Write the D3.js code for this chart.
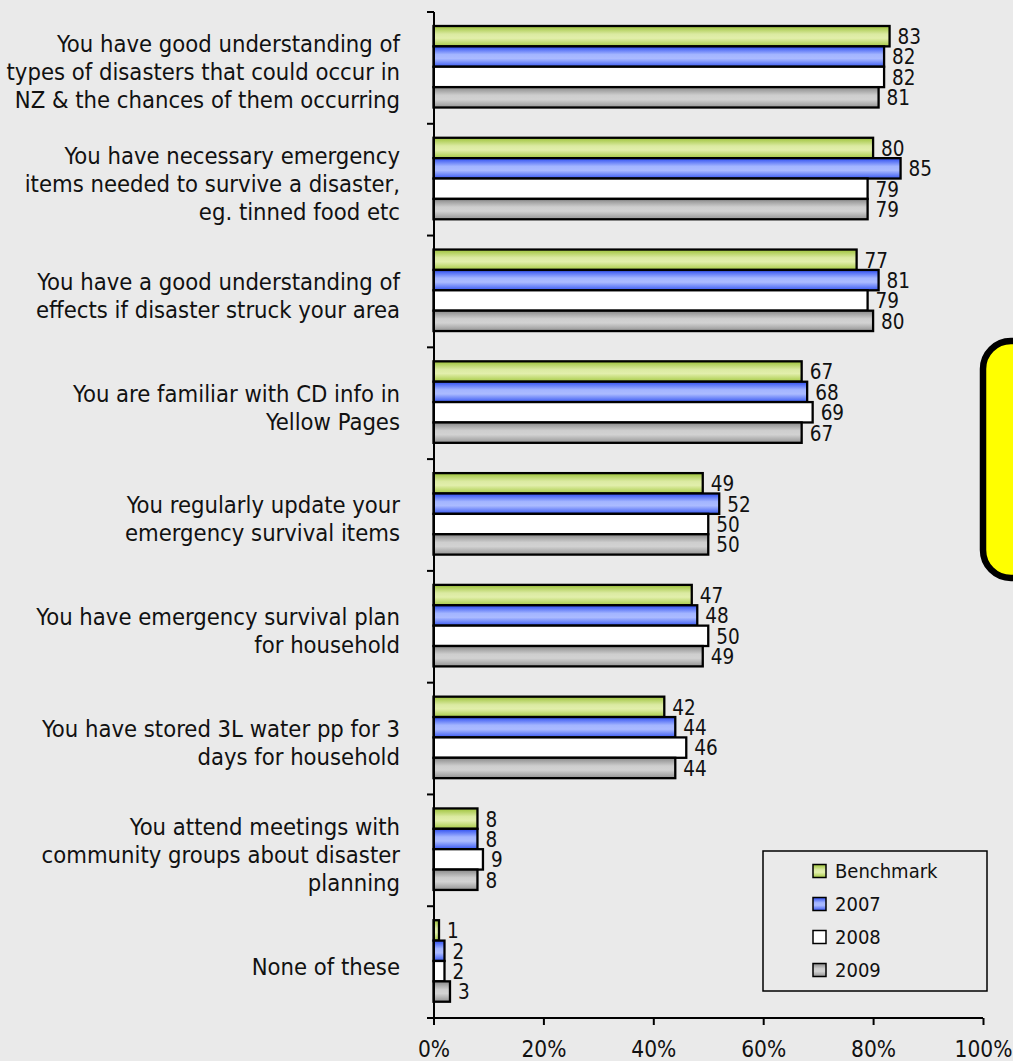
<!DOCTYPE html>
<html>
<head>
<meta charset="utf-8">
<script src="https://cdn.jsdelivr.net/npm/d3@7"></script>
<style>
  html, body { margin: 0; padding: 0; background: #EAEAEA; }
  svg { display: block; }
  text { font-family: "DejaVu Sans Condensed", "DejaVu Sans", sans-serif; fill: #111; }
</style>
</head>
<body>
<svg id="chart" width="1013" height="1061"></svg>
<script>
// Survey statements (label lines) and responses per year, in percent
const categories = [
  ["You have good understanding of", "types of disasters that could occur in", "NZ & the chances of them occurring"],
  ["You have necessary emergency", "items needed to survive a disaster,", "eg. tinned food etc"],
  ["You have a good understanding of", "effects if disaster struck your area"],
  ["You are familiar with CD info in", "Yellow Pages"],
  ["You regularly update your", "emergency survival items"],
  ["You have emergency survival plan", "for household"],
  ["You have stored 3L water pp for 3", "days for household"],
  ["You attend meetings with", "community groups about disaster", "planning"],
  ["None of these"]
];
const seriesNames = ["Benchmark", "2007", "2008", "2009"];
const benchmark = [83, 80, 77, 67, 49, 47, 42, 8, 1];
const y2007     = [82, 85, 81, 68, 52, 48, 44, 8, 2];
const y2008     = [82, 79, 79, 69, 50, 50, 46, 9, 2];
const y2009     = [81, 79, 80, 67, 50, 49, 44, 8, 3];
const xTicks = [0, 20, 40, 60, 80, 100];

const seriesValues = [benchmark, y2007, y2008, y2009];

const svg = d3.select("#chart");
const defs = svg.append("defs");

// vertical shading for the bar faces
const gradients = [
  { id: "gBench", stops: ["#9cc238", "#dbeaa2", "#e2efac", "#a6ca44"] },
  { id: "g2007",  stops: ["#2c4cf0", "#a3b5ff", "#abbbff", "#3858f2"] },
  { id: "g2008",  stops: ["#ffffff", "#ffffff", "#ffffff", "#ffffff"] },
  { id: "g2009",  stops: ["#888888", "#cecece", "#d2d2d2", "#939393"] }
];
gradients.forEach(g => {
  const lg = defs.append("linearGradient").attr("id", g.id)
    .attr("x1", 0).attr("y1", 0).attr("x2", 0).attr("y2", 1);
  [0, 0.4, 0.6, 1].forEach((o, i) =>
    lg.append("stop").attr("offset", o).attr("stop-color", g.stops[i]));
});
const fillFor = i => `url(#${gradients[i].id})`;

// scales
const x = d3.scaleLinear().domain([0, 100]).range([433.5, 983]);
const y = d3.scaleBand().domain(d3.range(categories.length)).range([12, 1018]).padding(0);
const inner = d3.scaleBand().domain(d3.range(seriesNames.length)).range([14, 95.5]).padding(0);

const rows = categories.map((c, ci) => ({ ci, lines: c, values: seriesValues.map(s => s[ci]) }));

// bars
const groups = svg.append("g").selectAll("g.cat").data(rows).join("g")
  .attr("class", "cat")
  .attr("transform", d => `translate(0,${y(d.ci)})`);

groups.selectAll("rect").data(d => d.values.map((v, si) => ({ v, si }))).join("rect")
  .attr("x", x(0))
  .attr("y", d => inner(d.si))
  .attr("width", d => x(d.v) - x(0))
  .attr("height", inner.bandwidth())
  .attr("fill", d => fillFor(d.si))
  .attr("stroke", "#000")
  .attr("stroke-width", 2.3);

// value labels
groups.selectAll("text.val").data(d => d.values.map((v, si) => ({ v, si }))).join("text")
  .attr("class", "val")
  .attr("x", d => x(d.v) + 8)
  .attr("y", d => inner(d.si) + inner.bandwidth() / 2 + 0.5)
  .attr("dy", "0.36em")
  .style("font-size", "20.5px")
  .text(d => d.v);

// category labels (right aligned, multi-line)
const lineH = 28;
groups.append("text")
  .attr("text-anchor", "end")
  .style("font-size", "23.6px")
  .each(function (d) {
    const t = d3.select(this);
    const n = d.lines.length;
    const mid = y.bandwidth() / 2 + 4;
    d.lines.forEach((ln, i) => {
      t.append("tspan")
        .attr("x", 400)
        .attr("y", mid + (i - (n - 1) / 2) * lineH)
        .attr("dy", "0.36em")
        .text(ln);
    });
  });

// y axis with ticks between categories
const yAxisG = svg.append("g");
yAxisG.append("line")
  .attr("x1", 434).attr("x2", 434)
  .attr("y1", 12).attr("y2", 1018)
  .attr("stroke", "#000").attr("stroke-width", 2);
const bounds = d3.range(categories.length + 1).map(i => i < categories.length ? y(i) : y.range()[1]);
yAxisG.selectAll("line.tk").data(bounds).join("line")
  .attr("class", "tk")
  .attr("x1", 427).attr("x2", 434)
  .attr("y1", d => d).attr("y2", d => d)
  .attr("stroke", "#000").attr("stroke-width", 2);

// x axis
const xAxis = d3.axisBottom(x).tickValues(xTicks).tickFormat(d => d + "%").tickSize(7).tickPadding(16);
const xg = svg.append("g").attr("transform", "translate(0,1018)").call(xAxis);
xg.select(".domain").attr("stroke", "#000").attr("stroke-width", 2).attr("d", `M${x(0)},0H${x(100)}`);
xg.selectAll(".tick line").attr("stroke", "#000").attr("stroke-width", 2);
xg.selectAll(".tick text")
  .style("font-family", "\"DejaVu Sans Condensed\", \"DejaVu Sans\", sans-serif")
  .style("font-size", "22.5px").attr("fill", "#111");

// legend
const lg = svg.append("g");
lg.append("rect").attr("x", 763).attr("y", 851).attr("width", 224).attr("height", 140)
  .attr("fill", "#EAEAEA").attr("stroke", "#000").attr("stroke-width", 1.5);
const legendY = d3.scalePoint().domain(seriesNames).range([871, 970]);
const items = lg.selectAll("g.item").data(seriesNames).join("g")
  .attr("class", "item")
  .attr("transform", d => `translate(813,${legendY(d)})`);
items.append("rect")
  .attr("x", 0).attr("y", -6.5).attr("width", 13).attr("height", 13)
  .attr("fill", (d, i) => fillFor(i)).attr("stroke", "#000").attr("stroke-width", 1.5);
items.append("text")
  .attr("x", 22).attr("dy", "0.36em")
  .style("font-size", "20px")
  .text(d => d);

// highlighted note panel at the right edge
svg.append("rect")
  .attr("x", 983).attr("y", 341).attr("width", 120).attr("height", 237)
  .attr("rx", 28).attr("ry", 28)
  .attr("fill", "#FFFF00").attr("stroke", "#000").attr("stroke-width", 6.5);
</script>
</body>
</html>
